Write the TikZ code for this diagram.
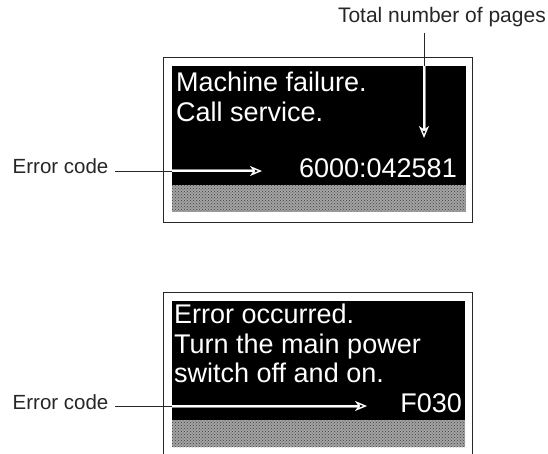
\documentclass[tikz,border=0pt]{standalone}
\usepackage{fontspec}
\setmainfont{Liberation Sans}
\usetikzlibrary{arrows.meta,patterns}
\begin{document}
\begin{tikzpicture}[x=1pt,y=-1pt,
 frame/.style={draw=black!85, line width=0.9pt},
 screen/.style={fill=black},
 grille/.style={fill=black!36, postaction={pattern=crosshatch dots, pattern color=black!75}},
 disp/.style={text=white, font=\fontsize{27}{30}\selectfont, inner sep=0pt},
 lbl/.style={text=black!85, font=\fontsize{20.5}{24}\selectfont, inner sep=0pt},
 leadout/.style={draw=black!85, line width=0.7pt},
 leadin/.style={draw=black!45, line width=0.5pt, double=white, double distance=2pt,
   -{Stealth[open, length=12pt, width=10pt, inset=3.5pt, line width=1.4pt, color=white]}}]
\useasboundingbox (0,0) rectangle (548,454);

% panel 1
\draw[frame] (163,57) rectangle (472,222);
\fill[screen] (172,66) rectangle (466,185);
\path[grille] (172,185) rectangle (466,212);
\node[disp, anchor=base west] (m1) at (176,92) {Machine failure.};
\node[disp, anchor=base west] (m2) at (176,122) {Call service.};
\node[disp, anchor=base east] (c1) at (457,178) {6000:042581};

% panel 2
\draw[frame] (163,454) -- (163,292) -- (472,292) -- (472,454);
\fill[screen] (172,301) rectangle (465,420);
\path[grille] (172,420) rectangle (465,447);
\node[disp, anchor=base west] (n1) at (174,323) {Error occurred.};
\node[disp, anchor=base west] (n2) at (174,353) {Turn the main power};
\node[disp, anchor=base west] (n3) at (174,382) {switch off and on.};
\node[disp, anchor=base east] (c2) at (462,412) {F030};

% labels
\node[lbl, anchor=base west] (e1) at (12.5,174) {Error code};
\node[lbl, anchor=base west] (e2) at (12.5,409) {Error code};
\node[lbl, anchor=base east, font=\fontsize{21}{24}\selectfont] (tp) at (546,23) {Total number of pages};

% leaders
\coordinate (a1s) at (115,171);
\coordinate (a1m) at (172,171);
\coordinate (a1t) at (262,171);
\draw[leadout] (a1s) -- (a1m);
\draw[leadin] (a1m) -- (a1t);

\coordinate (a2s) at (115,406);
\coordinate (a2m) at (172,406);
\coordinate (a2t) at (367,406);
\draw[leadout] (a2s) -- (a2m);
\draw[leadin] (a2m) -- (a2t);

\coordinate (a3s) at (424,33);
\coordinate (a3m) at (424,66);
\coordinate (a3t) at (424,138);
\draw[leadout] (a3s) -- (a3m);
\draw[leadin] (a3m) -- (a3t);
\end{tikzpicture}
\end{document}
